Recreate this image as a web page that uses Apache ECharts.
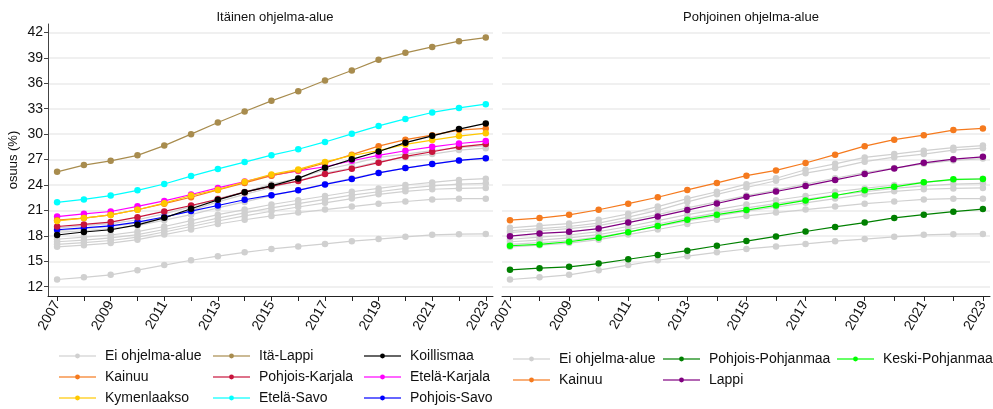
<!DOCTYPE html>
<html>
<head>
<meta charset="utf-8">
<script src="https://cdn.jsdelivr.net/npm/echarts@6/dist/echarts.min.js"></script>
<style>html,body{margin:0;padding:0;background:#fff}#c{width:993px;height:409px}</style>
</head>
<body>
<div id="c"></div>
<script>
const years = [2007,2008,2009,2010,2011,2012,2013,2014,2015,2016,2017,2018,2019,2020,2021,2022,2023];
const yTicks = [12,15,18,21,24,27,30,33,36,39,42];
const xLabelYears = [2007,2009,2011,2013,2015,2017,2019,2021,2023];

// Itäinen ohjelma-alue
const itaLappi = [25.55,26.35,26.85,27.5,28.65,30.0,31.38,32.68,33.93,35.07,36.33,37.51,38.77,39.6,40.3,40.97,41.4];
const etelaSavo = [21.95,22.3,22.75,23.37,24.12,25.05,25.9,26.7,27.52,28.22,29.08,30.04,30.97,31.8,32.56,33.1,33.54];
const koillismaa = [18.1,18.45,18.72,19.3,20.12,21.2,22.25,23.15,23.9,24.78,26.03,27.03,27.95,29.0,29.8,30.6,31.27];
const kainuu = [19.85,20.1,20.48,21.08,21.8,22.55,23.42,24.25,25.1,25.72,26.6,27.58,28.58,29.35,29.88,30.48,30.68];
const kymenlaakso = [19.75,20.1,20.47,21.08,21.86,22.76,23.45,24.38,25.25,25.84,26.72,27.48,28.05,28.79,29.3,29.77,30.12];
const etelaKarjala = [20.27,20.6,20.87,21.48,22.12,22.88,23.66,24.4,25.12,25.66,26.15,26.86,27.5,28.04,28.5,28.9,29.18];
const pohjoisKarjala = [19.1,19.35,19.62,20.2,20.88,21.58,22.32,23.15,23.87,24.46,25.29,25.92,26.64,27.37,27.92,28.5,28.83];
const pohjoisSavo = [18.72,18.93,19.18,19.62,20.22,20.92,21.58,22.26,22.8,23.37,24.07,24.7,25.43,26.0,26.47,26.9,27.17];

// Pohjoinen ohjelma-alue
const lappi = [17.96,18.28,18.47,18.86,19.56,20.27,21.04,21.82,22.6,23.23,23.89,24.6,25.3,25.96,26.62,27.05,27.32];
const keskiPohjanmaa = [16.83,16.99,17.3,17.77,18.43,19.17,19.91,20.5,21.04,21.59,22.18,22.76,23.38,23.78,24.32,24.67,24.71];
const pohjoisPohjanmaa = [13.99,14.18,14.34,14.73,15.24,15.74,16.25,16.83,17.38,17.93,18.51,19.05,19.56,20.11,20.5,20.85,21.16];

// Ei ohjelma-alue (gray)
const eiG1 = [12.85,13.1,13.4,13.95,14.55,15.12,15.6,16.05,16.45,16.75,17.05,17.37,17.62,17.88,18.12,18.2,18.22];
const eiG2 = [16.7,16.9,17.15,17.55,18.15,18.75,19.4,19.9,20.35,20.75,21.1,21.45,21.8,22.05,22.3,22.38,22.38];
const eiG3 = [17.6,17.85,18.1,18.5,19.1,19.8,20.5,21.1,21.7,22.2,22.7,23.2,23.6,24.0,24.3,24.6,24.75];
const eiG4 = [17.3,17.5,17.75,18.15,18.75,19.4,20.1,20.7,21.3,21.8,22.3,22.8,23.2,23.6,23.9,24.1,24.2];
const eiG5 = [17.0,17.2,17.45,17.85,18.45,19.1,19.75,20.35,20.9,21.4,21.9,22.4,22.9,23.25,23.5,23.6,23.65];
const eiG6 = [18.4,18.6,18.85,19.2,19.85,20.5,21.3,22.0,22.75,23.4,24.1,24.8,25.45,26.0,26.5,26.9,27.12];
const eiG7 = [18.95,19.2,19.45,19.9,20.6,21.45,22.4,23.2,24.1,24.8,25.8,26.5,27.25,27.65,28.05,28.4,28.65];
const eiG8 = [18.6,18.85,19.1,19.5,20.2,21.0,22.0,22.9,23.7,24.5,25.4,26.0,26.75,27.28,27.65,28.12,28.35];
const grayGroups = [eiG1,eiG2,eiG3,eiG4,eiG5,eiG6,eiG7,eiG8];

const FONT = '"Liberation Sans", Arial, sans-serif';
const GRAY = '#d0d0d0';

function pairs(arr){ return years.map((y,i)=>[y,arr[i]]); }
function line(name, arr, color, panel, z){
  return {
    type:'line', name:name, data:pairs(arr), xAxisIndex:panel, yAxisIndex:panel,
    symbol:'circle', symbolSize:6.5, showSymbol:true,
    lineStyle:{color:color, width:1.2}, itemStyle:{color:color},
    z: z||2, animation:false, silent:true
  };
}

const series = [];
[0,1].forEach(p=>{
  grayGroups.forEach(g=>series.push(line('Ei ohjelma-alue', g, GRAY, p, 1)));
});
series.push(line('Itä-Lappi', itaLappi, '#a88c4e', 0));
series.push(line('Etelä-Savo', etelaSavo, '#00ffff', 0));
series.push(line('Pohjois-Savo', pohjoisSavo, '#0000ff', 0));
series.push(line('Pohjois-Karjala', pohjoisKarjala, '#c8143c', 0));
series.push(line('Etelä-Karjala', etelaKarjala, '#ff00ff', 0));
series.push(line('Kainuu', kainuu, '#f57a1e', 0));
series.push(line('Kymenlaakso', kymenlaakso, '#ffc800', 0));
series.push(line('Koillismaa', koillismaa, '#000000', 0));
series.push(line('Pohjois-Pohjanmaa', pohjoisPohjanmaa, '#008000', 1));
series.push(line('Keski-Pohjanmaa', keskiPohjanmaa, '#00ff00', 1));
series.push(line('Lappi', lappi, '#800080', 1));
series.push(line('Kainuu', kainuu, '#f57a1e', 1));

function xAxis(idx, min, max){
  return {
    type:'value', gridIndex:idx, min:min, max:max,
    axisLine:{show:true, onZero:false, lineStyle:{color:'#222', width:1}},
    axisTick:{show:true, length:5, customValues:years, lineStyle:{color:'#222'}},
    axisLabel:{customValues:xLabelYears, rotate:60, fontSize:14, color:'#111', fontFamily:FONT, margin:6, formatter:v=>String(v)},
    splitLine:{show:false}
  };
}
function yAxis(idx, show){
  return {
    type:'value', gridIndex:idx, min:10.9, max:43,
    name: show ? 'osuus (%)' : '', nameLocation:'middle', nameGap:28,
    nameTextStyle:{fontSize:13, color:'#111', fontFamily:FONT},
    axisLine:{show:show, lineStyle:{color:'#444', width:1}},
    axisTick:{show:show, length:4, customValues:yTicks, lineStyle:{color:'#444'}},
    axisLabel:{show:show, customValues:yTicks, fontSize:14, color:'#111', fontFamily:FONT, margin:5},
    splitLine:{show:true, lineStyle:{color:'#ebebeb', width:1.5}}
  };
}

function legend(left, top, names){
  return {
    left:left, top:top, height:64, padding:0, orient:'vertical', itemGap:7, itemWidth:37, itemHeight:6,
    data:names,
    textStyle:{fontSize:14, color:'#111', fontFamily:FONT, padding:[0,0,0,4]},
    lineStyle:{opacity:0.6, width:2}, selectedMode:false
  };
}

const option = {
  animation:false,
  backgroundColor:'#fff',
  title:[
    {text:'Itäinen ohjelma-alue', left:270, top:6, textAlign:'center', textStyle:{fontSize:13, fontWeight:'normal', color:'#111', fontFamily:FONT}},
    {text:'Pohjoinen ohjelma-alue', left:746, top:6, textAlign:'center', textStyle:{fontSize:13, fontWeight:'normal', color:'#111', fontFamily:FONT}}
  ],
  grid:[
    {left:48, top:24, width:445, height:272},
    {left:502, top:24, width:488, height:272}
  ],
  xAxis:[xAxis(0, 2006.66, 2023.27), xAxis(1, 2006.73, 2023.24)],
  yAxis:[yAxis(0, true), yAxis(1, false)],
  legend:[
    legend(58, 349, ['Ei ohjelma-alue','Kainuu','Kymenlaakso']),
    legend(212, 349, ['Itä-Lappi','Pohjois-Karjala','Etelä-Savo']),
    legend(363, 349, ['Koillismaa','Etelä-Karjala','Pohjois-Savo']),
    legend(512, 352, ['Ei ohjelma-alue','Kainuu']),
    legend(662, 352, ['Pohjois-Pohjanmaa','Lappi']),
    legend(836, 352, ['Keski-Pohjanmaa'])
  ],
  series:series
};
const chart = echarts.init(document.getElementById('c'), null, {renderer:'canvas'});
chart.setOption(option);
</script>
</body>
</html>
